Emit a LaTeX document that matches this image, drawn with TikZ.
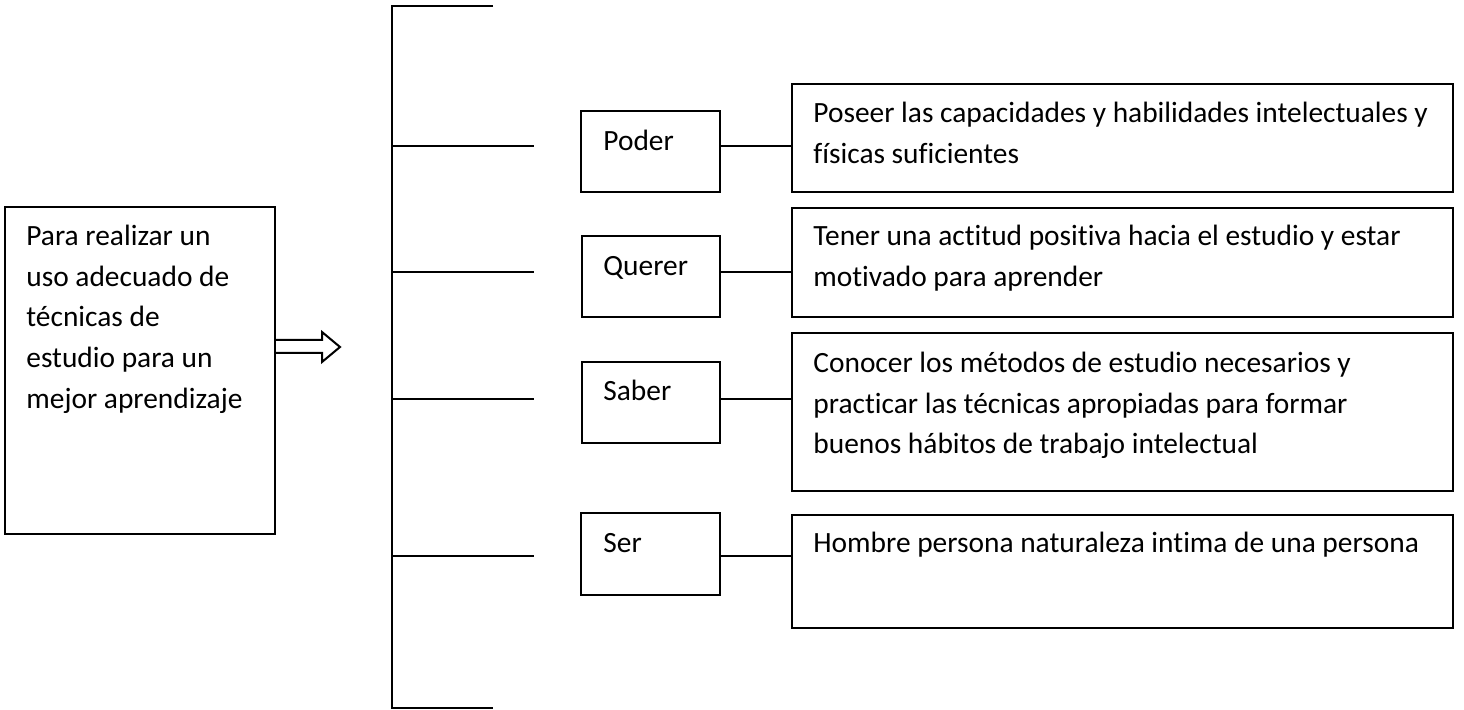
\documentclass[tikz,border=0pt]{standalone}
\usepackage{fontspec}
\setmainfont{Carlito}[Ligatures=NoCommon]
\begin{document}
\begin{tikzpicture}[x=0.5pt,y=-0.5pt,
  box/.style={draw,line width=1pt,anchor=north west,inner sep=0pt,outer sep=0pt},
  txt/.style={anchor=north west,inner sep=0pt,align=left,font=\fontsize{14.7}{20.4}\selectfont}]
\useasboundingbox (0,0) rectangle (1464,710);
% left box
\node[box,minimum width=135pt,minimum height=163.5pt] (left) at (5,207) {};
\node[txt] (lefttxt) at ([xshift=10.5pt]left.north west) {\rule{0pt}{19pt}Para realizar un\\uso adecuado de\\técnicas de\\estudio para un\\mejor aprendizaje};
% block arrow
\coordinate (tip) at (340,347);
\draw[line width=1pt,line join=miter] (275,340) -- (322,340) -- (322,332) -- (tip) -- (322,362) -- (322,353) -- (275,353);
% bracket
\coordinate (btop) at (392,6);
\coordinate (bbot) at (392,708);
\coordinate (btopend) at (493,6);
\coordinate (bbotend) at (493,708);
\draw[line width=1pt] (btopend) -- (btop) -- (bbot) -- (bbotend);
\coordinate (s1) at (392,146); \coordinate (b1) at (534,146);
\coordinate (s2) at (392,272); \coordinate (b2) at (534,272);
\coordinate (s3) at (392,399); \coordinate (b3) at (534,399);
\coordinate (s4) at (392,556); \coordinate (b4) at (534,556);
\foreach \i in {1,2,3,4} \draw[line width=1pt] (s\i) -- (b\i);
% small boxes
\node[box,minimum width=69.5pt,minimum height=40.5pt] (poder) at (581,111) {};
\node[txt] (podertxt) at ([xshift=11pt]poder.north west) {\rule{0pt}{19.5pt}Poder};
\node[box,minimum width=69pt,minimum height=40.5pt] (querer) at (582,236) {};
\node[txt] (querertxt) at ([xshift=10.5pt]querer.north west) {\rule{0pt}{19.5pt}Querer};
\node[box,minimum width=69pt,minimum height=40.5pt] (saber) at (582,362) {};
\node[txt] (sabertxt) at ([xshift=10.5pt]saber.north west) {\rule{0pt}{19pt}Saber};
\node[box,minimum width=69.5pt,minimum height=41pt] (ser) at (581,513) {};
\node[txt] (sertxt) at ([xshift=11pt]ser.north west) {\rule{0pt}{19.5pt}Ser};
% big boxes
\node[box,minimum width=330.5pt,minimum height=54pt] (poseer) at (792,84) {};
\node[txt] (poseertxt) at ([xshift=10.5pt]poseer.north west) {\rule{0pt}{19pt}Poseer las capacidades y habilidades intelectuales y\\físicas suficientes};
\node[box,minimum width=330.5pt,minimum height=54.5pt] (tener) at (792,208) {};
\node[txt] (tenertxt) at ([xshift=10.5pt]tener.north west) {\rule{0pt}{18.5pt}Tener una actitud positiva hacia el estudio y estar\\motivado para aprender};
\node[box,minimum width=330.5pt,minimum height=79pt] (conocer) at (792,333) {};
\node[txt] (conocertxt) at ([xshift=10.5pt]conocer.north west) {\rule{0pt}{19.5pt}Conocer los métodos de estudio necesarios y\\practicar las técnicas apropiadas para formar\\buenos hábitos de trabajo intelectual};
\node[box,minimum width=330.5pt,minimum height=56.5pt] (hombre) at (792,515) {};
\node[txt] (hombretxt) at ([xshift=10.5pt]hombre.north west) {\rule{0pt}{18.5pt}Hombre persona naturaleza intima de una persona};
% connectors
\draw[line width=1pt] (poder.east |- b1) -- (poseer.west |- b1);
\draw[line width=1pt] (querer.east |- b2) -- (tener.west |- b2);
\draw[line width=1pt] (saber.east |- b3) -- (conocer.west |- b3);
\draw[line width=1pt] (ser.east |- b4) -- (hombre.west |- b4);
\end{tikzpicture}
\end{document}
